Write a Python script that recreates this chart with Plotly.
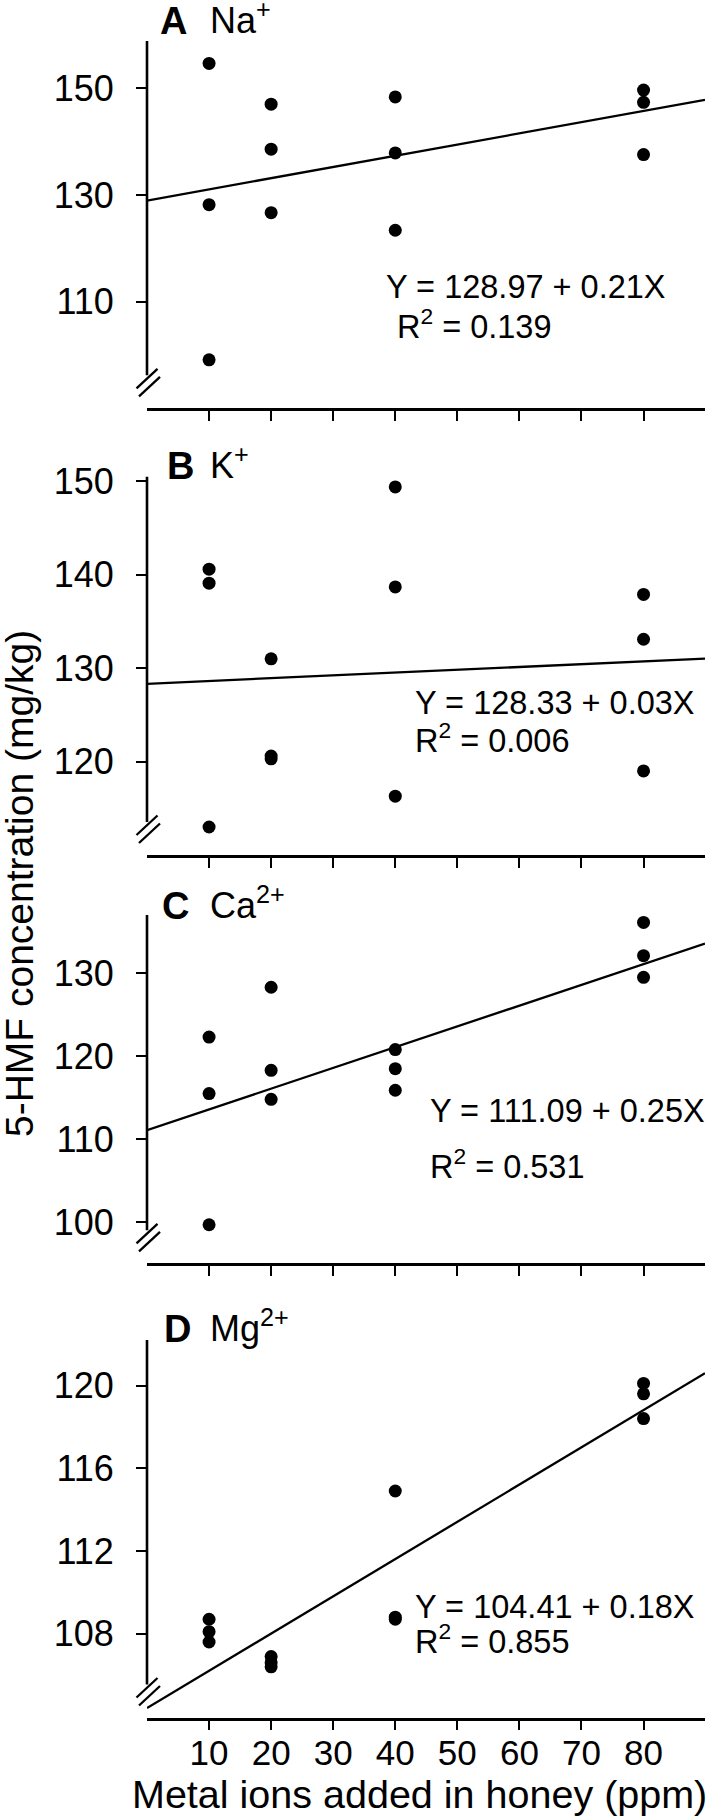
import plotly.graph_objects as go

# ---------------- data ----------------
x_ppm = [10, 10, 10, 20, 20, 20, 40, 40, 40, 80, 80, 80]
na_hmf = [154.7, 128.2, 99.1, 147.05, 138.6, 126.7, 148.4, 137.9, 123.4, 149.7, 147.4, 137.6]
k_hmf = [140.6, 139.1, 113.0, 131.0, 120.6, 120.3, 149.4, 138.7, 116.3, 137.9, 133.1, 119.0]
ca_hmf = [122.3, 115.5, 99.7, 128.3, 118.3, 114.8, 120.8, 118.5, 115.9, 136.1, 132.1, 129.5]
mg_hmf = [108.7, 108.1, 107.6, 106.9, 106.6, 106.4, 114.9, 108.8, 108.7, 120.1, 119.6, 118.4]

panel_letters = ["A", "B", "C", "D"]
ion_labels = ["Na<sup>+</sup>", "K<sup>+</sup>", "Ca<sup>2+</sup>", "Mg<sup>2+</sup>"]
intercepts = [128.97, 128.33, 111.09, 104.41]
slopes = [0.21, 0.03, 0.25, 0.18]
r_squared = [0.139, 0.006, 0.531, 0.855]

x_tick_vals = [10, 20, 30, 40, 50, 60, 70, 80]
y_ticks_a = [110, 130, 150]
y_ticks_b = [120, 130, 140, 150]
y_ticks_c = [100, 110, 120, 130]
y_ticks_d = [108, 112, 116, 120]

x_title = "Metal ions added in honey (ppm)"
y_title = "5-HMF concentration (mg/kg)"

series = [na_hmf, k_hmf, ca_hmf, mg_hmf]
y_ticks = [y_ticks_a, y_ticks_b, y_ticks_c, y_ticks_d]

# ---------------- geometry / style ----------------
W, H = 708, 1819
ML, MR = 147, 3
PW = W - ML - MR
FONT = "Liberation Sans, Arial, Helvetica, sans-serif"
X_RANGE = [0, 89.9]

# per panel: top px, bottom px, y range
panels = [
    dict(top=41, bottom=408.3, yr=[90.0, 158.9], letter_x=158, ion_x=208, title_y=21.5,
         eq_x=384, eq_y=287, r2_x=395, r2_y=328),
    dict(top=476.7, bottom=855, yr=[110.0, 150.5], letter_x=165, ion_x=208, title_y=466,
         eq_x=413, eq_y=703, r2_x=413, r2_y=742),
    dict(top=915, bottom=1263.3, yr=[95.06, 137.0], letter_x=160, ion_x=208, title_y=906,
         eq_x=428, eq_y=1110.7, r2_x=428, r2_y=1168),
    dict(top=1340, bottom=1717.5, yr=[103.95, 122.2], letter_x=162, ion_x=208, title_y=1329,
         eq_x=413, eq_y=1606.7, r2_x=413, r2_y=1643.3),
]


def px_x(px):
    return (px - ML) / PW


def px_y(py):
    return 1 - py / H


fig = go.Figure()
shapes = []
annotations = []
AXIS_X = ML

for i, p in enumerate(panels):
    n = "" if i == 0 else str(i + 1)
    xa, ya = "x" + n, "y" + n
    # scatter points
    fig.add_trace(go.Scatter(
        x=x_ppm, y=series[i], mode="markers", xaxis=xa, yaxis=ya,
        marker=dict(size=13, color="black"), cliponaxis=False, showlegend=False))
    # regression line
    xs = [X_RANGE[0], X_RANGE[1]]
    ys = [intercepts[i] + slopes[i] * v for v in xs]
    fig.add_trace(go.Scatter(
        x=xs, y=ys, mode="lines", xaxis=xa, yaxis=ya,
        line=dict(color="black", width=2.3), showlegend=False))

    dom = [px_y(p["bottom"]), px_y(p["top"])]
    fig.layout["xaxis" + n] = dict(
        domain=[0, 1], range=X_RANGE, anchor=ya, showline=True, linecolor="black",
        linewidth=2.6, ticks="outside", ticklen=10, tickwidth=2.4, tickcolor="black",
        tickvals=x_tick_vals, showticklabels=(i == 3), showgrid=False, zeroline=False,
        ticklabelstandoff=-7,
        tickfont=dict(family=FONT, size=35, color="black"), automargin=False)
    fig.layout["yaxis" + n] = dict(
        domain=dom, range=p["yr"], anchor=xa, showline=False, ticks="outside",
        ticklen=10, tickwidth=2.4, tickcolor="black", tickvals=y_ticks[i],
        showgrid=False, zeroline=False, ticklabelstandoff=15,
        tickfont=dict(family=FONT, size=36, color="black"), automargin=False)

    # broken y axis line
    brk = 33
    shapes.append(dict(type="line", xref="paper", yref="paper",
                       x0=px_x(AXIS_X), x1=px_x(AXIS_X),
                       y0=px_y(p["bottom"] - brk), y1=px_y(p["top"]),
                       line=dict(color="black", width=2.6)))
    # break marks
    for (dx0, up0, dx1, up1) in [(-10.5, 20, 10.5, 39.5), (-8, 12, 13, 31.5)]:
        shapes.append(dict(type="line", xref="paper", yref="paper",
                           x0=px_x(AXIS_X + dx0), x1=px_x(AXIS_X + dx1),
                           y0=px_y(p["bottom"] - up0), y1=px_y(p["bottom"] - up1),
                           line=dict(color="black", width=2.3)))

    # panel title
    annotations.append(dict(text="<b>" + panel_letters[i] + "</b>", xref="paper", yref="paper",
                            x=px_x(p["letter_x"]), y=px_y(p["title_y"]), xanchor="left",
                            yanchor="middle", showarrow=False,
                            font=dict(family=FONT, size=38, color="black")))
    annotations.append(dict(text=ion_labels[i], xref="paper", yref="paper",
                            x=px_x(p["ion_x"]), y=px_y(p["title_y"] - 3), xanchor="left",
                            yanchor="middle", showarrow=False,
                            font=dict(family=FONT, size=36, color="black")))
    # equation
    annotations.append(dict(text=f"Y = {intercepts[i]:.2f} + {slopes[i]:.2f}X",
                            xref="paper", yref="paper",
                            x=px_x(p["eq_x"]), y=px_y(p["eq_y"]), xanchor="left",
                            yanchor="middle", showarrow=False,
                            font=dict(family=FONT, size=32.5, color="black")))
    annotations.append(dict(text=f"R<sup>2</sup> = {r_squared[i]:.3f}",
                            xref="paper", yref="paper",
                            x=px_x(p["r2_x"]), y=px_y(p["r2_y"] - 4), xanchor="left",
                            yanchor="middle", showarrow=False,
                            font=dict(family=FONT, size=32.5, color="black")))

# axis titles
annotations.append(dict(text=x_title, xref="paper", yref="paper",
                        x=px_x(419), y=px_y(1794), xanchor="center", yanchor="middle",
                        showarrow=False, font=dict(family=FONT, size=39.5, color="black")))
annotations.append(dict(text=y_title, xref="paper", yref="paper", textangle=-90,
                        x=px_x(19), y=px_y(884), xanchor="center", yanchor="middle",
                        showarrow=False, font=dict(family=FONT, size=39, color="black")))

fig.update_layout(
    width=W, height=H,
    margin=dict(l=ML, r=MR, t=0, b=0, pad=0),
    paper_bgcolor="white", plot_bgcolor="white",
    shapes=shapes, annotations=annotations, showlegend=False,
    font=dict(family=FONT, color="black"),
)

fig.write_html("out.html",
               config={"displayModeBar": False},
               post_script="document.body.style.margin='0px';"
                           "document.body.style.padding='0px';"
                           "document.body.style.overflow='hidden';")
